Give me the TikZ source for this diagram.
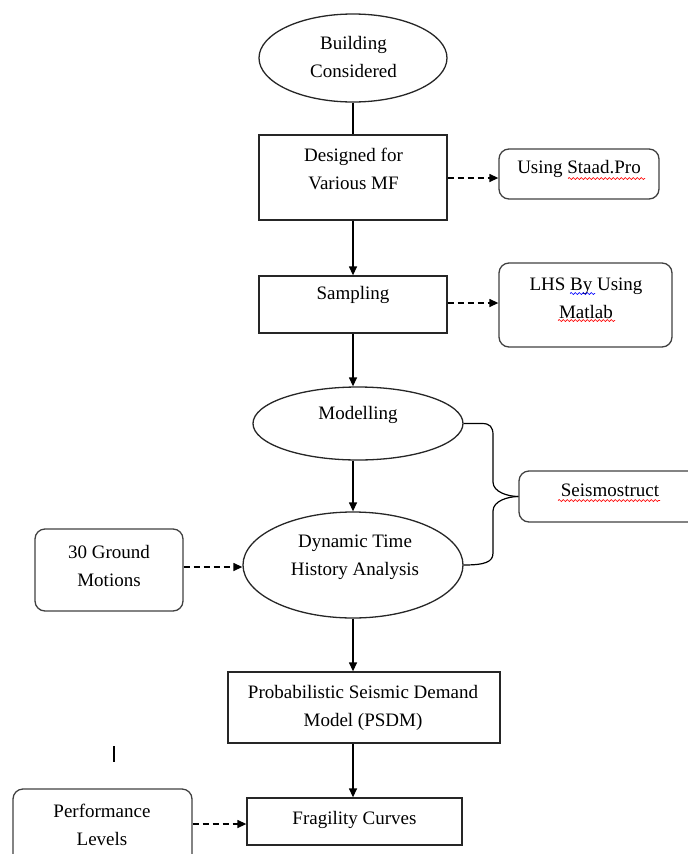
\documentclass[tikz,border=0pt]{standalone}
\usepackage{fontspec}
\setmainfont{Liberation Serif}
\usetikzlibrary{shapes.geometric,arrows.meta,decorations.pathmorphing}
\begin{document}
\begin{tikzpicture}[x=1pt,y=-1pt,
  every node/.style={font=\fontsize{19}{28}\selectfont},
  shp/.style={draw=black!85,line width=1.3pt,inner sep=0pt},
  sqbox/.style={shp,rectangle},
  rbox/.style={shp,rectangle,rounded corners=10pt,draw=black!75},
  oval/.style={shp,ellipse},
  txt/.style={align=center,inner sep=0pt},
  flow/.style={line width=1.3pt,-{Triangle[length=9pt,width=8pt]}},
  plain/.style={line width=1.3pt},
  dasharrow/.style={line width=1.3pt,dash pattern=on 6pt off 4pt,-{Triangle[length=9pt,width=8pt]}},
  brace/.style={line width=1.2pt},
  squig/.style={red,line width=0.7pt,decorate,decoration={snake,amplitude=1pt,segment length=4pt}}
]
\useasboundingbox (0,0) rectangle (688,854);

% shapes
\node[oval,minimum width=188pt,minimum height=88pt] (building) at (353,58) {};
\node[txt] (tbuilding) at (353.5,57) {Building\\Considered};

\node[sqbox,minimum width=188pt,minimum height=85pt] (designed) at (353,177.5) {};
\node[txt] (tdesigned) at (353.5,168.5) {Designed for\\Various MF};

\node[rbox,minimum width=160pt,minimum height=50pt] (staad) at (579,174) {};
\node[txt] (tstaad) at (579,169) {Using Staad.Pro};

\node[sqbox,minimum width=188pt,minimum height=57pt] (sampling) at (353,304.5) {};
\node[txt] (tsampling) at (353,295) {Sampling};

\node[rbox,minimum width=173pt,minimum height=84pt] (lhs) at (585.5,305) {};
\node[txt] (tlhs) at (586,298.5) {LHS By Using\\Matlab};

\node[oval,minimum width=210pt,minimum height=73pt] (modelling) at (358,423.5) {};
\node[txt] (tmodelling) at (358,415) {Modelling};

\node[oval,minimum width=220pt,minimum height=106pt] (dynamic) at (353,565) {};
\node[txt] (tdynamic) at (355,557.5) {Dynamic Time\\History Analysis};

\node[rbox,minimum width=186pt,minimum height=51pt] (seis) at (612,496.5) {};
\node[txt] (tseis) at (610,490) {Seismostruct};

\node[rbox,minimum width=148pt,minimum height=82pt] (ground) at (109,570) {};
\node[txt] (tground) at (109,566) {30 Ground\\Motions};

\node[sqbox,minimum width=272pt,minimum height=71pt] (psdm) at (364,707.5) {};
\node[txt] (tpsdm) at (363,707.5) {Probabilistic Seismic Demand\\Model (PSDM)};

\node[sqbox,minimum width=215pt,minimum height=47pt] (frag) at (354.5,821.5) {};
\node[txt] (tfrag) at (354.5,820) {Fragility Curves};

\node[rbox,minimum width=179pt,minimum height=82pt] (perf) at (102.5,830) {};
\node[txt] (tperf) at (102,824.5) {Performance\\Levels};

% main flow
\draw[plain] (building.south) -- (designed.north);
\draw[flow] (designed.south) -- (sampling.north);
\draw[flow] (sampling.south) -- (modelling.north -| sampling.south);
\draw[flow] (modelling.south -| sampling.south) -- (dynamic.north);
\draw[flow] (dynamic.south) -- (dynamic.south |- psdm.north);
\draw[flow] (dynamic.south |- psdm.south) -- (dynamic.south |- frag.north);

% dashed side inputs
\draw[dasharrow] (designed.east |- 0,178) -- (staad.west |- 0,178);
\draw[dasharrow] (sampling.east |- 0,303) -- (lhs.west |- 0,303);
\draw[dasharrow] (ground.east |- 0,567) -- (dynamic.west |- 0,567);
\draw[dasharrow] (perf.east |- 0,824) -- (frag.west |- 0,824);

% brace to Seismostruct
\draw[brace] (modelling.east) -- (482,423.5)
  .. controls (490,423.5) and (493,427) .. (493,435) -- (493,482)
  .. controls (493,492) and (508,496.5) .. (seis.west);
\draw[brace] (seis.west) .. controls (508,496.5) and (493,501) .. (493,511)
  -- (493,553) .. controls (493,562) and (485,565) .. (dynamic.east);

% stray mark
\draw[line width=1.2pt] (114,746) -- (114,762);

% spell-check squiggles
\draw[squig] (568,178.5) -- (645,178.5);
\draw[squig] (558,320.5) -- (615,320.5);
\draw[squig,blue] (570,293.5) -- (595,293.5);
\draw[squig] (558,500.5) -- (660,500.5);
\end{tikzpicture}
\end{document}
